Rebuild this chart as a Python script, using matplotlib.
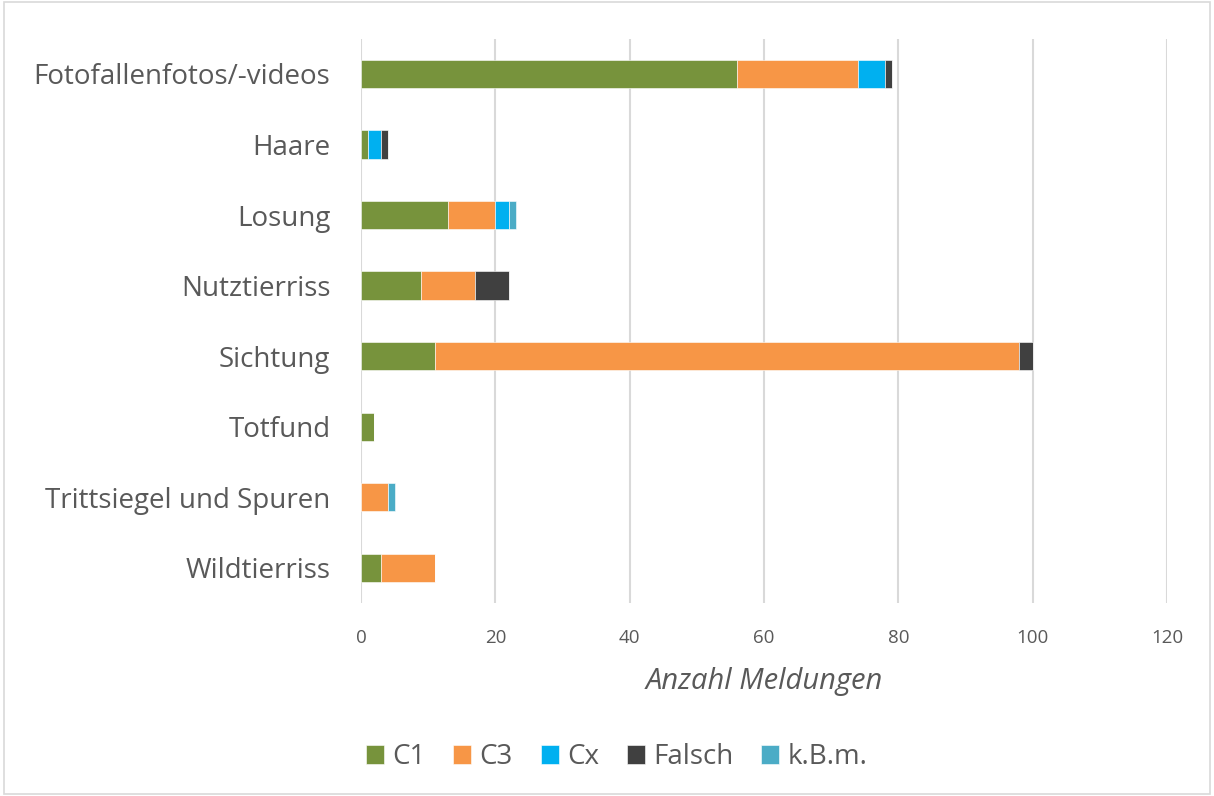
import numpy as np
import matplotlib.pyplot as plt
from matplotlib.patches import Rectangle

categories = ["Fotofallenfotos/-videos", "Haare", "Losung", "Nutztierriss",
              "Sichtung", "Totfund", "Trittsiegel und Spuren", "Wildtierriss"]
c1 = [56, 1, 13, 9, 11, 2, 0, 3]
c3 = [18, 0, 7, 8, 87, 0, 4, 8]
cx = [4, 2, 2, 0, 0, 0, 0, 0]
falsch = [1, 1, 0, 5, 2, 0, 0, 0]
kbm = [0, 0, 1, 0, 0, 0, 1, 0]

series = [("C1", c1, "#77933C"), ("C3", c3, "#F79646"), ("Cx", cx, "#00B0F0"),
          ("Falsch", falsch, "#404040"), ("k.B.m.", kbm, "#4BACC6")]

plt.rcParams["font.family"] = ["Open Sans", "DejaVu Sans"]
text_color = "#595959"

fig = plt.figure(figsize=(12.14, 7.96), dpi=100)
ax = fig.add_axes([0.2974, 0.2425, 0.6639, 0.7089])

y = np.arange(len(categories))
left = np.zeros(len(categories))
for name, vals, color in series:
    vals = np.array(vals, dtype=float)
    ax.barh(y, vals, left=left, height=0.4, color=color, label=name,
            edgecolor="white", linewidth=0.4, zorder=3)
    left += vals

ax.set_ylim(len(categories) - 0.5, -0.5)
ax.set_xlim(0, 120)
ax.set_xticks(range(0, 121, 20))
ax.set_yticks(y)
ax.set_yticklabels(categories, fontsize=20, color=text_color)
ax.tick_params(axis="x", labelsize=13.5, colors=text_color, length=0, pad=19)
ax.tick_params(axis="y", length=0, pad=22)
ax.grid(axis="x", color="#D9D9D9", linewidth=1.5, zorder=0)
for s in ax.spines.values():
    s.set_visible(False)

ax.set_xlabel("Anzahl Meldungen", fontsize=21, style="italic",
              color=text_color, labelpad=14)

fig.legend(loc="lower center", bbox_to_anchor=(0.508, 0.0), ncol=5,
           frameon=False, fontsize=20, handlelength=0.65, handleheight=0.65,
           handletextpad=0.3, columnspacing=1.0, labelcolor=text_color)

fig.patches.append(Rectangle((0.003, 0.003), 0.994, 0.994, transform=fig.transFigure,
                             fill=False, edgecolor="#D9D9D9", linewidth=1.2))

fig.savefig("out.png", dpi=100)
